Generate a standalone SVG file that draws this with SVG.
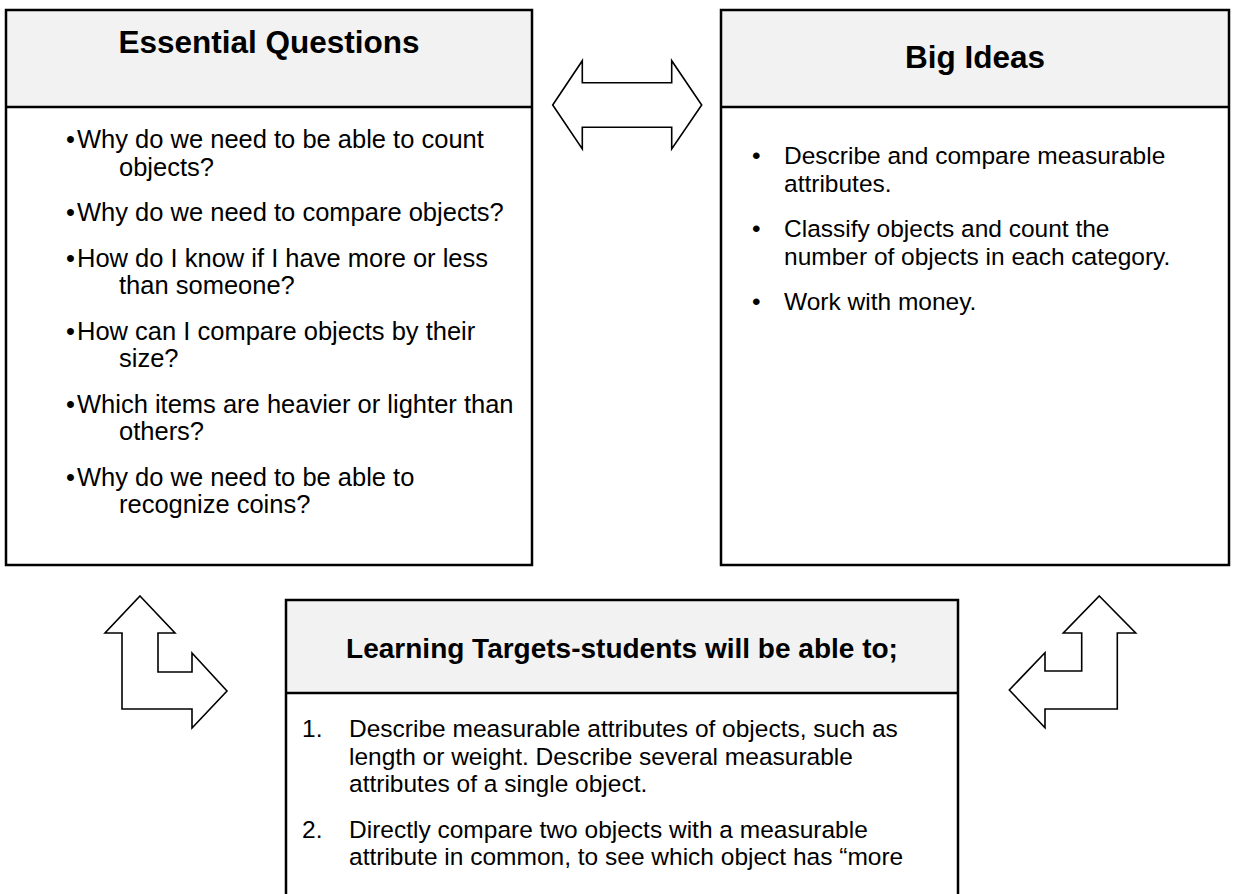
<svg xmlns="http://www.w3.org/2000/svg" width="1236" height="894" viewBox="0 0 1236 894">
<style>
.hdr{fill:#f2f2f2;stroke:none}
.box{fill:none;stroke:#000;stroke-width:2.5}
.div{stroke:#000;stroke-width:2.5}
.arrow{fill:#fff;stroke:#000;stroke-width:1.6;stroke-linejoin:miter}
.title{font-family:"Liberation Sans",Arial,sans-serif;font-weight:bold;fill:#000;text-anchor:middle}
.body{font-family:"Liberation Sans",Arial,sans-serif;font-size:24.5px;fill:#000}
.eq{font-size:25.5px}
</style>
<rect width="1236" height="894" fill="#fff"/>
<g id="essential-questions">
<rect class="hdr" x="6" y="10" width="526" height="97"/>
<rect class="box" x="6" y="10" width="526" height="555"/>
<line class="div" x1="6" y1="107" x2="532" y2="107"/>
<text class="title" x="269" y="53" font-size="31.5">Essential Questions</text>
<g class="body eq">
<text x="66" y="148">•</text><text x="77" y="148">Why do we need to be able to count</text>
<text x="119" y="175.5">objects?</text>
<text x="66" y="221">•</text><text x="77" y="221">Why do we need to compare objects?</text>
<text x="66" y="266.5">•</text><text x="77" y="266.5">How do I know if I have more or less</text>
<text x="119" y="294">than someone?</text>
<text x="66" y="339.5">•</text><text x="77" y="339.5">How can I compare objects by their</text>
<text x="119" y="367">size?</text>
<text x="66" y="412.5">•</text><text x="77" y="412.5">Which items are heavier or lighter than</text>
<text x="119" y="440">others?</text>
<text x="66" y="485.5">•</text><text x="77" y="485.5">Why do we need to be able to</text>
<text x="119" y="513">recognize coins?</text>
</g>
</g>
<g id="big-ideas">
<rect class="hdr" x="721" y="10" width="508" height="97"/>
<rect class="box" x="721" y="10" width="508" height="555"/>
<line class="div" x1="721" y1="107" x2="1229" y2="107"/>
<text class="title" x="975" y="68" font-size="31.5">Big Ideas</text>
<g class="body">
<text x="752" y="164">•</text><text x="784" y="164">Describe and compare measurable</text>
<text x="784" y="191.5">attributes.</text>
<text x="752" y="237">•</text><text x="784" y="237">Classify objects and count the</text>
<text x="784" y="264.5">number of objects in each category.</text>
<text x="752" y="310">•</text><text x="784" y="310">Work with money.</text>
</g>
</g>
<g id="learning-targets">
<rect class="hdr" x="286" y="600" width="672" height="93"/>
<rect class="box" x="286" y="600" width="672" height="310"/>
<line class="div" x1="286" y1="693" x2="958" y2="693"/>
<text class="title" x="622" y="658" font-size="28">Learning Targets-students will be able to;</text>
<g class="body">
<text x="302" y="737">1.</text><text x="349" y="737">Describe measurable attributes of objects, such as</text>
<text x="349" y="764.5">length or weight. Describe several measurable</text>
<text x="349" y="792">attributes of a single object.</text>
<text x="302" y="837.5">2.</text><text x="349" y="837.5">Directly compare two objects with a measurable</text>
<text x="349" y="865">attribute in common, to see which object has “more</text>
</g>
</g>
<g id="connectors">
<polygon class="arrow" points="552.7,105 582.3,60.7 582.3,82.7 671.7,82.7 671.7,60.7 701.7,105 671.7,149 671.7,127.3 582.3,127.3 582.3,149"/>
<polygon class="arrow" points="140,596 175,633 158,633 158,672 192,672 192,653 227,691 192,728 192,709 122,709 122,633 105,633"/>
<polygon class="arrow" points="1099.3,596 1135.7,633 1117.3,633 1117.3,709 1045,709 1045,727.7 1009.3,690 1045,652.7 1045,671 1081.7,671 1081.7,633 1063.3,633"/>
</g>
</svg>
